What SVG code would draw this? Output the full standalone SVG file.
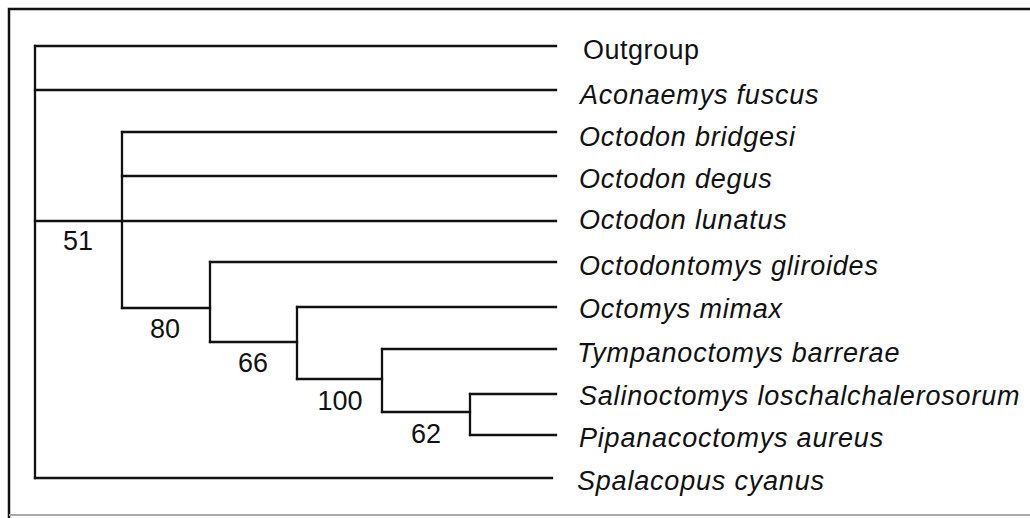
<svg xmlns="http://www.w3.org/2000/svg" width="1030" height="518" viewBox="0 0 1030 518">
<style>
.frame{fill:none;stroke:#111;stroke-width:2.5}
.edge{fill:none;stroke:#111;stroke-width:2.3;stroke-linecap:square}
.taxon{font-family:"Liberation Sans",Arial,sans-serif;font-size:27px;font-style:italic;fill:#111;letter-spacing:0.8px}
.plain{font-style:normal;letter-spacing:0.5px}
.support{font-family:"Liberation Sans",Arial,sans-serif;font-size:27px;fill:#111;text-anchor:middle}
</style>
<rect x="0" y="0" width="1030" height="518" fill="#fff"/>
<g id="frame">
<path class="frame" d="M9,518 V9 H1030"/>
<path d="M9,515 H1030" fill="none" stroke="#aaa" stroke-width="2"/>
</g>
<g id="connectors">
<path class="edge" d="M35,46 V478"/>
<path class="edge" d="M35,46 H556"/>
<path class="edge" d="M35,90 H556"/>
<path class="edge" d="M35,221 H556"/>
<path class="edge" d="M35,478 H552"/>
<path class="edge" d="M122,132 V308"/>
<path class="edge" d="M122,132 H556"/>
<path class="edge" d="M122,176 H556"/>
<path class="edge" d="M122,308 H210"/>
<path class="edge" d="M210,262 V342"/>
<path class="edge" d="M210,262 H556"/>
<path class="edge" d="M210,342 H297"/>
<path class="edge" d="M297,307 V379"/>
<path class="edge" d="M297,307 H556"/>
<path class="edge" d="M297,379 H382"/>
<path class="edge" d="M382,349 V412"/>
<path class="edge" d="M382,349 H556"/>
<path class="edge" d="M382,412 H470"/>
<path class="edge" d="M470,394 V435"/>
<path class="edge" d="M470,394 H556"/>
<path class="edge" d="M470,435 H556"/>
</g>
<g id="taxa">
<g id="t-outgroup"><text class="taxon plain" x="583" y="59">Outgroup</text></g>
<g id="t-aconaemys"><text class="taxon" x="580" y="104">Aconaemys fuscus</text></g>
<g id="t-bridgesi"><text class="taxon" x="579" y="146">Octodon bridgesi</text></g>
<g id="t-degus"><text class="taxon" x="579" y="188">Octodon degus</text></g>
<g id="t-lunatus"><text class="taxon" x="579" y="229">Octodon lunatus</text></g>
<g id="t-octodontomys"><text class="taxon" x="579" y="275">Octodontomys gliroides</text></g>
<g id="t-octomys"><text class="taxon" x="579" y="318">Octomys mimax</text></g>
<g id="t-tympanoctomys"><text class="taxon" x="577" y="362">Tympanoctomys barrerae</text></g>
<g id="t-salinoctomys"><text class="taxon" x="579" y="405">Salinoctomys loschalchalerosorum</text></g>
<g id="t-pipanacoctomys"><text class="taxon" x="579" y="447">Pipanacoctomys aureus</text></g>
<g id="t-spalacopus"><text class="taxon" x="577" y="490">Spalacopus cyanus</text></g>
</g>
<g id="support">
<g id="s51"><text class="support" x="78" y="250">51</text></g>
<g id="s80"><text class="support" x="165" y="338">80</text></g>
<g id="s66"><text class="support" x="253" y="372">66</text></g>
<g id="s100"><text class="support" x="340" y="410">100</text></g>
<g id="s62"><text class="support" x="426" y="443">62</text></g>
</g>
</svg>
